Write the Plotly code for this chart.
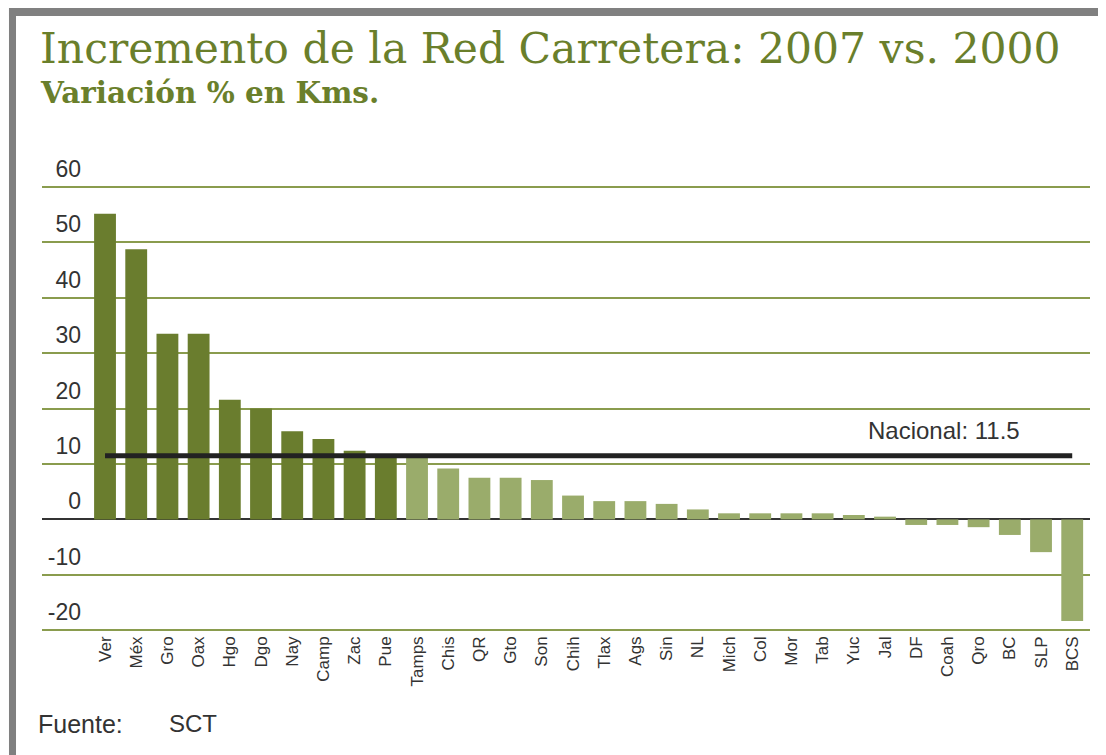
import plotly.graph_objects as go

states = ["Ver", "Méx", "Gro", "Oax", "Hgo", "Dgo", "Nay", "Camp", "Zac", "Pue",
          "Tamps", "Chis", "QR", "Gto", "Son", "Chih", "Tlax", "Ags", "Sin", "NL",
          "Mich", "Col", "Mor", "Tab", "Yuc", "Jal", "DF", "Coah", "Qro", "BC",
          "SLP", "BCS"]
values = [55.1, 48.7, 33.5, 33.5, 21.6, 20.0, 15.9, 14.5, 12.4, 11.3,
          11.1, 9.2, 7.5, 7.5, 7.1, 4.3, 3.3, 3.3, 2.8, 1.8,
          1.1, 1.1, 1.1, 1.1, 0.8, 0.5, -1.0, -1.0, -1.4, -2.8,
          -5.9, -18.3]
nacional = 11.5
y_tick_vals = [-20, -10, 0, 10, 20, 30, 40, 50, 60]
y_tick_text = ["-20", "-10", "0", "10", "20", "30", "40", "50", "60"]
dark_count = 10  # first ten states drawn in dark green

DARK = "#6a7d2e"
LIGHT = "#9aac6b"
colors = [DARK if i < dark_count else LIGHT for i in range(len(states))]

fig = go.Figure()
fig.add_trace(go.Bar(x=states, y=values, marker=dict(color=colors, line=dict(width=0)),
                     hoverinfo="x+y"))
fig.add_trace(go.Scatter(x=[states[0], states[-1]], y=[nacional, nacional], mode="lines",
                         line=dict(color="#222222", width=5), hoverinfo="skip"))

fig.update_layout(
    width=1098, height=747,
    margin=dict(l=34, r=16, t=177, b=123),
    paper_bgcolor="white", plot_bgcolor="white",
    showlegend=False, bargap=0.3,
    font=dict(family="Liberation Sans, Arial, sans-serif", color="#333333"),
)
fig.update_xaxes(type="category", range=[-2.02, 31.57], tickangle=-90,
                 tickfont=dict(size=17, color="#333333"), showgrid=False,
                 showline=False, ticks="")
fig.update_yaxes(range=[-20.3, 60.3], tickvals=y_tick_vals, ticktext=y_tick_text, showgrid=True,
                 gridcolor="#8a9c4e", gridwidth=2, zeroline=True,
                 zerolinecolor="#333333", zerolinewidth=2, showline=False, ticks="",
                 tickfont=dict(size=23, color="#333333"),
                 ticklabelstandoff=-40, ticklabelshift=-18)

# paper coordinates relative to the plot area (447 px tall, 1048 px wide)
title_color = "#6a7f2b"
fig.add_annotation(text="Incremento de la Red Carretera: 2007 vs. 2000",
                   xref="paper", yref="paper", x=-0.0038, y=1.3045,
                   xanchor="left", yanchor="middle", showarrow=False,
                   font=dict(family="DejaVu Serif, serif", size=42.5, color=title_color))
fig.add_annotation(text="<b>Variación % en Kms.</b>",
                   xref="paper", yref="paper", x=-0.0038, y=1.2066,
                   xanchor="left", yanchor="middle", showarrow=False,
                   font=dict(family="DejaVu Serif, serif", size=29.5, color=title_color))
fig.add_annotation(text="Nacional: 11.5", xref="x", yref="y", x=29.4, y=nacional,
                   xanchor="right", yanchor="bottom", yshift=10, showarrow=False,
                   font=dict(size=24, color="#333333"))
fig.add_annotation(text="Fuente:", xref="paper", yref="paper", x=-0.006, y=-0.2058,
                   xanchor="left", yanchor="middle", showarrow=False,
                   font=dict(size=25, color="#333333"))
fig.add_annotation(text="SCT", xref="paper", yref="paper", x=0.119, y=-0.2058,
                   xanchor="left", yanchor="middle", showarrow=False,
                   font=dict(size=24, color="#333333"))

# gray frame (top band and left band)
fig.add_shape(type="rect", xref="paper", yref="paper", x0=-0.0315, x1=1.02,
              y0=1.378, y1=1.40, fillcolor="#808080", line=dict(width=0), layer="above")
fig.add_shape(type="rect", xref="paper", yref="paper", x0=-0.0315, x1=-0.0248,
              y0=-0.3, y1=1.40, fillcolor="#808080", line=dict(width=0), layer="above")

fig.write_html("out.html")
